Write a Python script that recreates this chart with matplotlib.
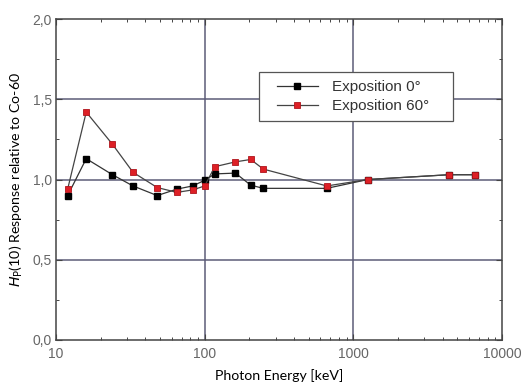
import matplotlib
matplotlib.use("Agg")
import matplotlib.pyplot as plt
from matplotlib.patches import Rectangle
from matplotlib.ticker import FixedLocator, FuncFormatter, MultipleLocator, LogLocator, NullFormatter

energy = [12, 16, 24, 33, 48, 65, 83, 100, 117, 161, 204, 248, 662, 1250, 4400, 6600]
resp_0 = [0.90, 1.13, 1.03, 0.96, 0.90, 0.94, 0.96, 0.995, 1.035, 1.04, 0.965, 0.945, 0.945, 1.00, 1.03, 1.03]
resp_60 = [0.94, 1.42, 1.22, 1.045, 0.95, 0.92, 0.935, 0.96, 1.08, 1.11, 1.125, 1.065, 0.96, 1.00, 1.03, 1.03]

fig = plt.figure(figsize=(5.32, 3.89), dpi=100)
ax = fig.add_axes([0.105, 0.126, 0.839, 0.825])

gridcol = "#5c5c78"
ax.plot(energy, resp_0, "-", color="#333333", lw=0.9, marker="s", ms=4.2,
        mfc="black", mec="black", label="Exposition 0°", zorder=3)
ax.plot(energy, resp_60, "-", color="#444444", lw=0.9, marker="s", ms=4.2,
        mfc="#dd2026", mec="#b0151c", mew=0.6, label="Exposition 60°", zorder=3)

ax.set_xscale("log")
ax.set_xlim(10, 10000)
ax.set_ylim(0, 2.0)

ax.xaxis.set_major_locator(FixedLocator([10, 100, 1000, 10000]))
ax.xaxis.set_major_formatter(FuncFormatter(lambda v, p: "%d" % v))
ax.xaxis.set_minor_locator(LogLocator(base=10, subs=range(2, 10)))
ax.xaxis.set_minor_formatter(NullFormatter())
ax.yaxis.set_major_locator(MultipleLocator(0.5))
ax.yaxis.set_minor_locator(MultipleLocator(0.25))
ax.yaxis.set_major_formatter(FuncFormatter(lambda v, p: ("%.1f" % v).replace(".", ",")))

ax.tick_params(which="both", direction="in", top=True, right=True,
               colors="#444444", labelcolor="#666666", labelsize=10)
ax.tick_params(which="major", length=4, width=0.8)
ax.tick_params(which="minor", length=2.5, width=0.7)
ax.tick_params(axis="x", pad=5)
ax.tick_params(axis="y", pad=3)
for lab in ax.get_xticklabels() + ax.get_yticklabels():
    lab.set_family("Liberation Sans")

for v in [100, 1000]:
    ax.axvline(v, color=gridcol, lw=1.1, zorder=1)
for v in [0.5, 1.0, 1.5]:
    ax.axhline(v, color=gridcol, lw=1.1, zorder=1)

for s in ax.spines.values():
    s.set_color("#444444")
    s.set_linewidth(1.1)

ax.set_xlabel("Photon Energy [keV]", family="Lato", fontsize=10.2, labelpad=6)
ax.set_ylabel("$H_\\mathrm{P}$(10) Response relative to Co-60", family="Lato", fontsize=10.2, labelpad=5)

# legend frame drawn separately so the padding matches the original box
ax.add_patch(Rectangle((0.455, 0.682), 0.435, 0.153, transform=ax.transAxes,
                       facecolor="white", edgecolor="#555555", lw=0.9, zorder=4))
leg = ax.legend(loc="center left", bbox_to_anchor=(0.495, 0.758), borderaxespad=0,
                frameon=False, prop={"family": "Liberation Sans", "size": 11},
                handlelength=2.7, borderpad=0, labelspacing=0.3, handletextpad=0.9)
leg.set_zorder(5)
for t in leg.get_texts():
    t.set_color("#333333")

fig.savefig("out.png", dpi=100)
